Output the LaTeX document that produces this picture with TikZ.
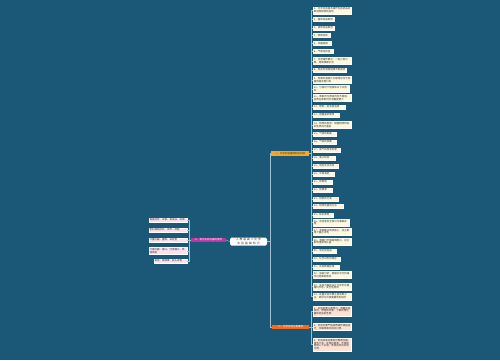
\documentclass[tikz,border=0pt]{standalone}
\usepackage{fontspec}
\setmainfont{Noto Sans CJK SC}
\XeTeXlinebreaklocale "zh"
\XeTeXlinebreakskip=0pt plus 1pt
\definecolor{bg}{RGB}{27,88,120}
\definecolor{wire}{RGB}{160,190,208}
\definecolor{cream}{RGB}{255,248,222}
\definecolor{peach}{RGB}{253,226,212}
\definecolor{pinkc}{RGB}{250,226,242}
\definecolor{orA}{RGB}{245,168,35}
\definecolor{orB}{RGB}{242,106,27}
\definecolor{mag}{RGB}{190,52,165}
\definecolor{txt}{RGB}{50,50,50}
\tikzset{
  tw/.style={text width=#1pt},
  box/.style={draw=white, line width=0.35pt, inner xsep=0.8pt, inner ysep=0.8pt,
    font=\fontsize{2.5}{2.9}\selectfont, text=txt, align=flush left},
  cn/.style={box, fill=cream, anchor=west},
  pn/.style={box, fill=peach, anchor=west},
  ln/.style={box, fill=pinkc, anchor=east},
  br/.style={inner xsep=1pt, inner ysep=1pt, font=\fontsize{2.5}{3}\selectfont, anchor=west, minimum height=4.6pt},
  wirel/.style={draw=wire, line width=0.4pt}
}
\begin{document}
\begin{tikzpicture}[x=1pt,y=-1pt]
\fill[bg] (0,0) rectangle (500,360);
\useasboundingbox (0,0) rectangle (500,360);

% centre
\node[fill=white, rounded corners=1.5pt, text width=35pt, align=center, inner sep=1pt,
  font=\fontsize{2.8}{3.4}\selectfont, text=txt] (ctr) at (248.5,241.5) {人教版高二化学实验基础知识};

% branches
\node[br, fill=orA, text=txt, minimum width=38pt] (b1) at (271,153.5) {一、化学实验基础知识归纳};
\node[br, fill=orB, text=white, minimum width=37pt] (b2) at (272,327) {二、化学实验注意事项};
\node[br, fill=mag, text=white, minimum width=35pt, anchor=east] (b3) at (226,240) {三、常见实验仪器的使用};

\coordinate (j1) at (311,153.5);
\coordinate (j2) at (311,327);
\coordinate (j3) at (189.5,240);
\coordinate (j0) at (270,241.5);

% branch 1 children
\node[cn, tw=36.4] (c1) at (313,10.3) {1、化学实验基本操作包括药品的取用和物质的加热};
\node[cn, tw=19.4] (c2) at (313,19.5) {2、固体药品取用};
\node[cn, tw=19.4] (c3) at (313,28) {3、液体药品取用};
\node[cn, tw=15.4] (c4) at (313,35.5) {4、物质加热};
\node[cn, tw=16.4] (c5) at (313,43.5) {5、仪器连接};
\node[cn, tw=18.4] (c6) at (313,51.5) {6、气密性检查};
\node[cn, tw=36.4] (c7) at (313,61) {7、过滤操作要点：一贴二低三靠，用玻璃棒引流};
\node[cn, tw=31.4] (c8) at (313,70) {8、蒸发时用玻璃棒不断搅拌};
\node[cn, tw=36.4] (c9) at (313,80) {9、蒸馏时温度计水银球应位于蒸馏烧瓶支管口处};
\node[cn, tw=34.4] (c10) at (313,89) {10、分液时下层液体从下口放出};
\node[cn, tw=36.4] (c11) at (313,98) {11、萃取剂与原溶剂互不相溶，溶质在萃取剂中溶解度更大};
\node[cn, tw=30.4] (c12) at (313,107) {12、配制一定浓度溶液};
\node[cn, tw=24.4] (c13) at (313,115) {13、容量瓶的使用};
\node[cn, tw=36.4] (c14) at (313,125) {14、物质的检验：根据物质特有的性质进行鉴别};
\node[cn, tw=21.4] (c15) at (313,134) {15、气体的制备};
\node[cn, tw=21.4] (c16) at (313,142) {16、气体的收集};
\node[cn, tw=25.4] (c17) at (313,150) {17、尾气的吸收处理};
\node[cn, tw=20.4] (c18) at (313,158) {18、离子检验};
\node[cn, tw=23.4] (c19) at (313,166) {19、焰色反应实验};
\node[cn, tw=19.4] (c20) at (313,174) {20、中和滴定};
\node[cn, tw=17.4] (c21) at (313,182) {21、防倒吸};
\node[cn, tw=17.4] (c22) at (313,190) {22、防暴沸};
\node[cn, tw=23.4] (c23) at (313,199) {23、物质的分离};
\node[cn, tw=28.4] (c24) at (313,206) {24、物质的提纯方法};
\node[cn, tw=18.4] (c25) at (313,215) {25、除杂原则};
\node[cn, tw=34.4] (c26) at (313,222.5) {26、实验室安全常识与事故处理};
\node[cn, tw=36.4] (c27) at (313,231.5) {27、浓硫酸沾到皮肤上，应立即用大量水冲洗};
\node[cn, tw=36.4] (c28) at (313,241.5) {28、酒精灯不慎碰倒起火，应立即用湿抹布扑盖};
\node[cn, tw=21.4] (c29) at (313,251) {29、常见危险品};
\node[cn, tw=25.4] (c30) at (313,259) {30、化学试剂的保存};
\node[cn, tw=24.4] (c31) at (313,267) {31、实验数据处理};
\node[cn, tw=36.4] (c32) at (313,275) {32、误差分析：根据公式分析操作对结果的影响};
\node[cn, tw=36.4] (c33) at (313,286.5) {33、实验方案的设计与评价应遵循科学性、安全性原则};
\node[cn, tw=36.4] (c34) at (313,296.5) {34、定量实验中要注意读数方法，视线与凹液面最低处相平};

% branch 2 children
\node[pn, tw=36.4] (d1) at (313,311) {1、实验前要认真预习，明确实验目的、原理和步骤，了解所用仪器和药品的性质。};
\node[pn, tw=36.4] (d2) at (313,327) {2、实验中要严格按照操作规程进行，仔细观察并如实记录。};
\node[pn, tw=36.4] (d3) at (313,344.5) {3、实验结束后要及时整理仪器，清洗干净，处理好废液，不得随意倒入下水道，养成良好的实验习惯。};

% branch 3 children
\node[ln, tw=36.4] (l1) at (187,220) {直接加热：试管、蒸发皿、坩埚};
\node[ln, tw=36.4] (l2) at (187,230) {垫石棉网加热：烧杯、烧瓶};
\node[ln, tw=36.4] (l3) at (187,240) {计量仪器：量筒、滴定管};
\node[ln, tw=36.4] (l4) at (187,251) {分离仪器：漏斗、分液漏斗、蒸馏烧瓶};
\node[ln, tw=31.4] (l5) at (187,261) {其他：玻璃棒、胶头滴管};

% connectors
\draw[wirel] (ctr.east) -- (j0) |- (b1.west);
\draw[wirel] (j0) |- (b2.west);
\draw[wirel] (ctr.west) -- (b3.east);
\draw[wirel] (b1.east) -- (j1);
\foreach \i in {1,...,34} { \draw[wirel] (j1) |- (c\i.west); }
\draw[wirel] (b2.east) -- (j2);
\foreach \i in {1,2,3} { \draw[wirel] (j2) |- (d\i.west); }
\draw[wirel] (b3.west) -- (j3);
\foreach \i in {1,...,5} { \draw[wirel] (j3) |- (l\i.east); }
\end{tikzpicture}
\end{document}
